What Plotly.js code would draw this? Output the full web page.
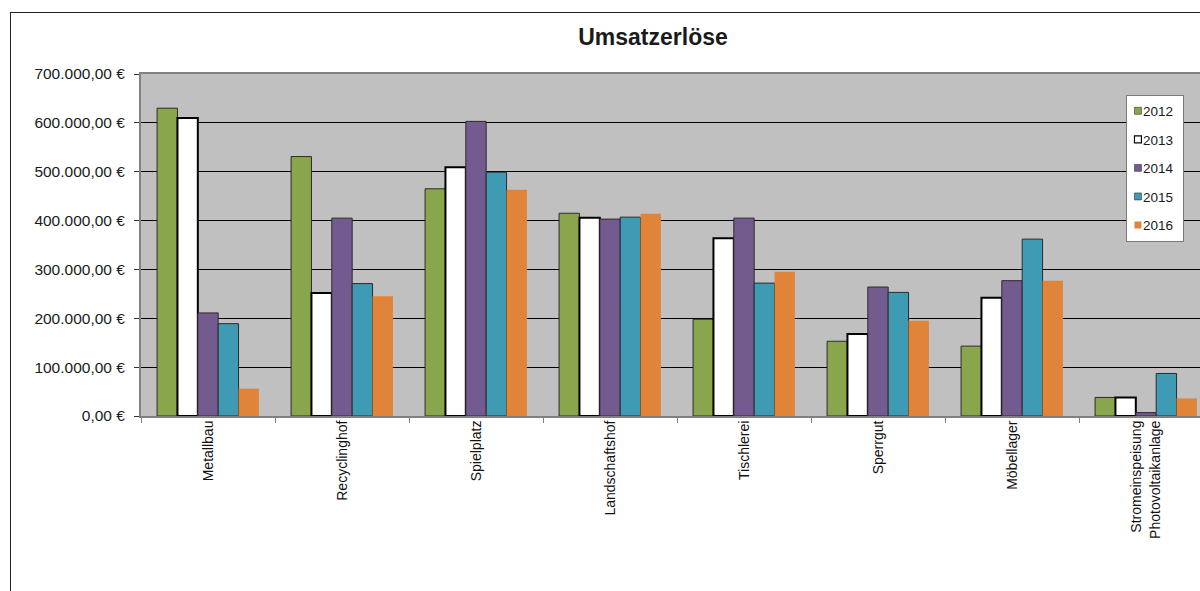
<!DOCTYPE html>
<html>
<head>
<meta charset="utf-8">
<script src="https://cdn.plot.ly/plotly-3.0.1.min.js"></script>
<style>
  html, body { margin: 0; padding: 0; background: #ffffff; overflow: hidden; width: 1200px; height: 591px; }
  #frame { position: absolute; left: 10px; top: 12px; border-left: 1px solid #222; border-top: 1px solid #222; }
  #chart { width: 1284px; height: 620px; }
  /* compact legend: labels set close to their swatches */
  .legendtext { transform: translateX(-24px); }
  .legend rect.bg { width: 57px; }
</style>
</head>
<body>
<div id="frame"><div id="chart"></div></div>
<script>
// Umsatzerlöse je Bereich, 2012–2016 (in €)
const categories = [
  "Metallbau", "Recyclinghof", "Spielplatz", "Landschaftshof",
  "Tischlerei", "Sperrgut", "Möbellager", "Stromeinspeisung<br>Photovoltaikanlage"
];
const years = ["2012", "2013", "2014", "2015", "2016"];

const umsatz2012 = [630000, 531000, 465000, 415000, 198000, 153000, 143000, 38000];
const umsatz2013 = [610000, 252000, 509000, 406000, 364000, 168000, 242000, 38000];
const umsatz2014 = [211000, 405000, 603000, 403000, 405000, 264000, 277000, 7000];
const umsatz2015 = [189000, 271000, 499000, 407000, 272000, 253000, 362000, 87000];
const umsatz2016 = [56000, 245000, 463000, 414000, 295000, 195000, 277000, 36000];

const yTickVals = [0, 100000, 200000, 300000, 400000, 500000, 600000, 700000];
const yTickText = [
  "0,00 €", "100.000,00 €", "200.000,00 €", "300.000,00 €",
  "400.000,00 €", "500.000,00 €", "600.000,00 €", "700.000,00 €"
];

const series = [umsatz2012, umsatz2013, umsatz2014, umsatz2015, umsatz2016];
const fills = ["#8aa64c", "#ffffff", "#735a8f", "#3f9ab3", "#e0843a"];
const outlines = [
  { color: "#2b2b2b", width: 1 },
  { color: "#000000", width: 2 },
  { color: "#2b2b2b", width: 1 },
  { color: "#2b2b2b", width: 1 },
  { color: "rgba(0,0,0,0)", width: 0 }
];

const traces = series.map((values, i) => ({
  type: "bar",
  name: years[i],
  x: categories,
  y: values,
  legendgroup: years[i],
  marker: { color: fills[i], line: outlines[i] },
  hoverinfo: "x+y+name"
}));

const FONT = "Liberation Sans, Arial, sans-serif";

const layout = {
  width: 1284,
  height: 620,
  margin: { l: 130, r: 82, t: 61, b: 217 },
  paper_bgcolor: "#ffffff",
  plot_bgcolor: "#c0c0c0",
  font: { family: FONT, color: "#1a1a1a", size: 13 },
  title: {
    text: "<b>Umsatzerlöse</b>",
    font: { size: 23, color: "#1a1a1a", family: FONT },
    xref: "container", x: 0.5, xanchor: "center",
    yref: "container", y: 1 - 24 / 620, yanchor: "middle"
  },
  barmode: "group",
  bargap: 0.24,
  bargroupgap: 0,
  showlegend: true,
  legend: {
    x: 0.9188, xanchor: "left",
    y: 0.94, yanchor: "top",
    bgcolor: "#ffffff",
    bordercolor: "#7a7a7a",
    borderwidth: 1,
    font: { size: 13.5, color: "#1a1a1a", family: FONT },
    traceorder: "grouped",
    tracegroupgap: 8,
    itemwidth: 30
  },
  xaxis: {
    type: "category",
    tickangle: -90,
    tickfont: { size: 14, color: "#111111", family: FONT },
    ticks: "outside",
    tickson: "boundaries",
    ticklen: 5,
    tickcolor: "#808080",
    ticklabelstandoff: -3,
    showline: true,
    linecolor: "#808080",
    linewidth: 2,
    mirror: true,
    showgrid: false,
    fixedrange: true
  },
  yaxis: {
    range: [0, 700000],
    tickvals: yTickVals,
    ticktext: yTickText,
    ticks: "outside",
    ticklen: 5,
    tickcolor: "#333333",
    ticklabelstandoff: 6,
    tickfont: { size: 15.5, color: "#1a1a1a", family: FONT },
    showgrid: true,
    gridcolor: "#000000",
    gridwidth: 1,
    showline: true,
    linecolor: "#808080",
    linewidth: 2,
    mirror: true,
    zeroline: false,
    fixedrange: true
  }
};

Plotly.newPlot("chart", traces, layout, { displayModeBar: false, staticPlot: true }).then(gd => {
  // shrink the legend swatches and shift them next to their labels
  gd.querySelectorAll(".legendpoints path").forEach(p => {
    const t = p.getAttribute("transform") || "";
    p.setAttribute("transform", (t + " translate(-9,0) scale(0.58)").trim());
  });
});
</script>
</body>
</html>
